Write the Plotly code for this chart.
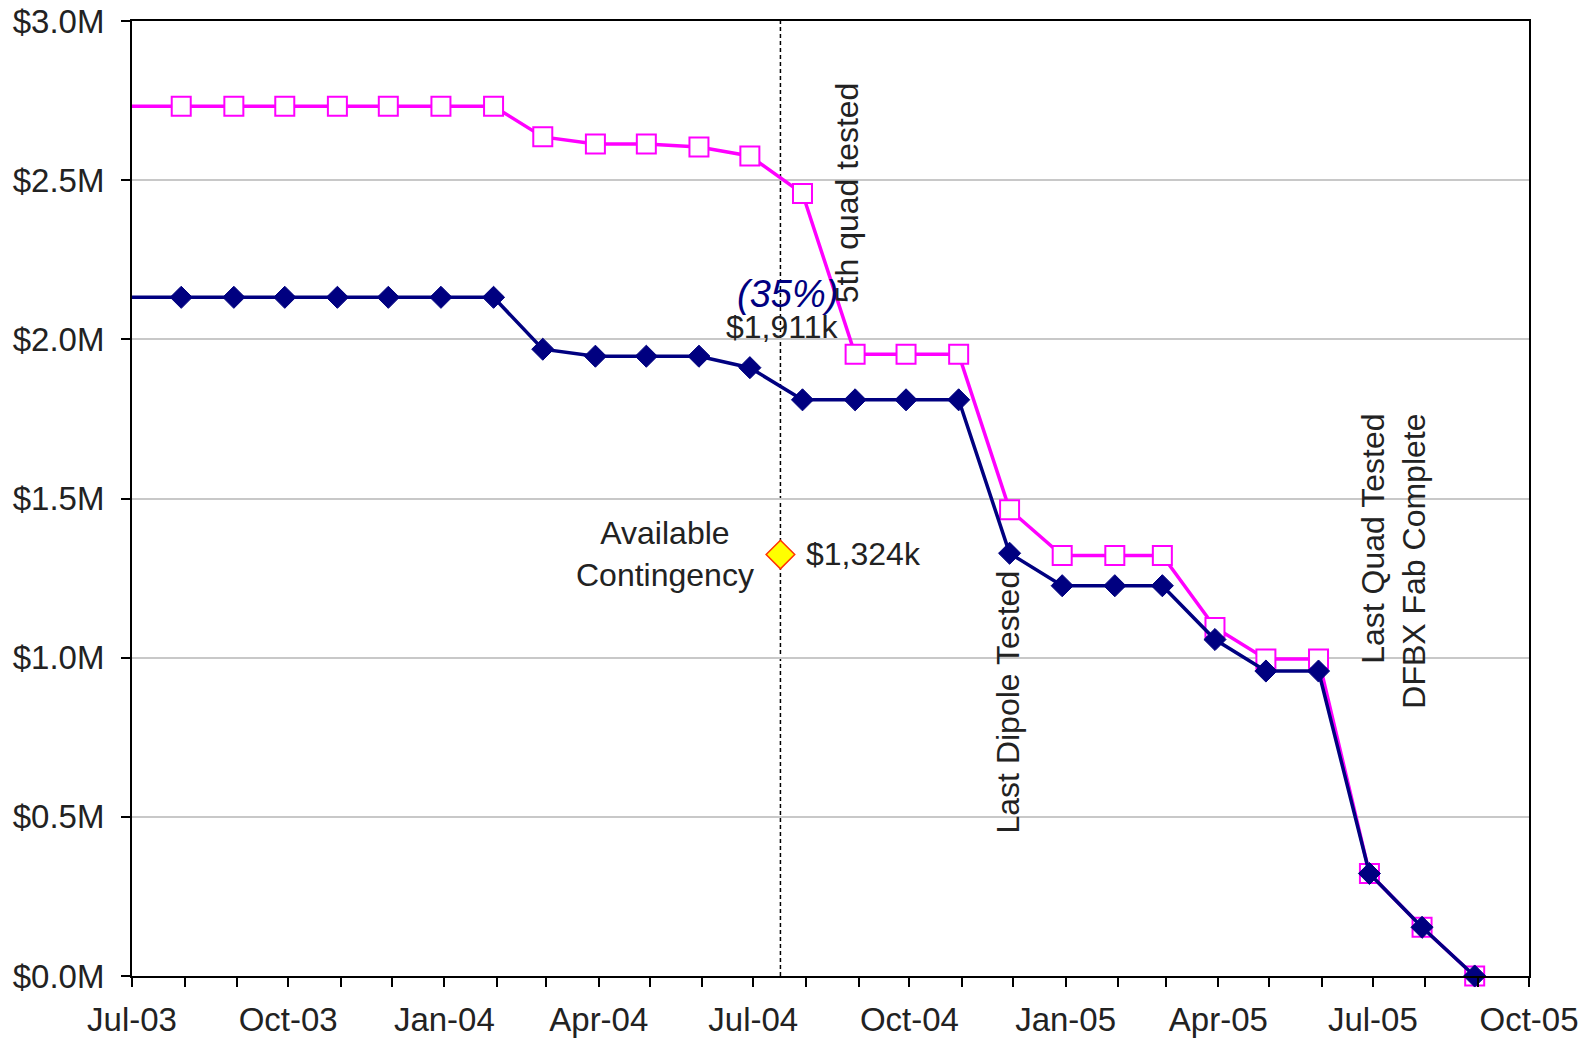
import plotly.graph_objects as go
import pandas as pd

# ---- data ----
start_date = "2003-07-01"
point_dates = ["2003-07-30", "2003-08-30", "2003-09-29", "2003-10-30", "2003-11-29", "2003-12-30",
               "2004-01-30", "2004-02-28", "2004-03-30", "2004-04-29", "2004-05-30", "2004-06-29",
               "2004-07-30", "2004-08-30", "2004-09-29", "2004-10-30", "2004-11-29", "2004-12-30",
               "2005-01-30", "2005-02-27", "2005-03-30", "2005-04-29", "2005-05-30", "2005-06-29",
               "2005-07-30", "2005-08-30"]

magenta_vals = [2.732, 2.732, 2.732, 2.732, 2.732, 2.732, 2.732,
                2.636, 2.614, 2.614, 2.604, 2.576, 2.458, 1.953, 1.953, 1.953,
                1.465, 1.321, 1.321, 1.321, 1.095, 0.996, 0.996, 0.322, 0.153, 0.0]
navy_vals = [2.132, 2.132, 2.132, 2.132, 2.132, 2.132, 2.132,
             1.969, 1.947, 1.947, 1.947, 1.911, 1.810, 1.810, 1.810, 1.810,
             1.328, 1.226, 1.226, 1.226, 1.057, 0.958, 0.958, 0.322, 0.153, 0.0]

contingency_date = "2004-07-17"
contingency_val = 1.324

tick_months = pd.date_range("2003-07-01", "2005-10-01", freq="MS")
tick_labels = [d.strftime("%b-%y") if (d.month - 7) % 3 == 0 else "" for d in tick_months]
y_ticks = [0.0, 0.5, 1.0, 1.5, 2.0, 2.5, 3.0]
y_labels = ["$0.0M", "$0.5M", "$1.0M", "$1.5M", "$2.0M", "$2.5M", "$3.0M"]

FONT = "Liberation Sans, Arial, sans-serif"
TICK_FS = 33
ANN_FS = 32

x_line = [start_date] + point_dates
msizes = [0] + [19] * len(point_dates)
dsizes = [0] + [17] * len(point_dates)

fig = go.Figure()
fig.add_trace(go.Scatter(
    x=x_line, y=[magenta_vals[0]] + magenta_vals, mode="lines+markers",
    line=dict(color="#FF00FF", width=3.5),
    marker=dict(symbol="square", size=msizes, color="white", opacity=1,
                line=dict(color="#FF00FF", width=2)),
    cliponaxis=False, showlegend=False))
fig.add_trace(go.Scatter(
    x=x_line, y=[navy_vals[0]] + navy_vals, mode="lines+markers",
    line=dict(color="#000080", width=3.5),
    marker=dict(symbol="diamond", size=dsizes, color="#000080", opacity=1,
                line=dict(color="#000080", width=1)),
    cliponaxis=False, showlegend=False))
fig.add_trace(go.Scatter(
    x=[contingency_date], y=[contingency_val], mode="markers",
    marker=dict(symbol="diamond", size=22, color="#FFFF00", opacity=1,
                line=dict(color="#FF3300", width=1.5)),
    showlegend=False))

fig.add_shape(type="line", xref="x", yref="paper", x0=contingency_date, x1=contingency_date,
              y0=0, y1=1, line=dict(color="black", width=1.5, dash="4px,3px"), layer="below")

ann_font = dict(family=FONT, size=ANN_FS, color="#222222")
fig.add_annotation(x="2004-07-21", y=2.142, text="(35%)", showarrow=False,
                   font=dict(family=FONT, size=38, color="#000080", style="italic"))
fig.add_annotation(x="2004-07-18", y=2.04, text="$1,911k", showarrow=False, font=ann_font)
fig.add_annotation(x="2004-08-25", y=2.461, text="5th quad tested", showarrow=False,
                   textangle=-90, font=ann_font)
fig.add_annotation(x="2004-05-10", y=1.325, text="Available<br>Contingency", showarrow=False,
                   font=ann_font, align="center")
fig.add_annotation(x="2004-07-31", y=1.325, text="$1,324k", showarrow=False,
                   xanchor="left", font=ann_font)
fig.add_annotation(x="2004-11-28", y=0.862, text="Last Dipole Tested", showarrow=False,
                   textangle=-90, font=ann_font)
fig.add_annotation(x="2005-07-13", y=1.302, text="Last Quad Tested<br>DFBX Fab Complete",
                   showarrow=False, textangle=-90, align="right", font=ann_font)

fig.update_layout(
    width=1593, height=1039,
    margin=dict(l=132, r=64, t=21, b=63),
    paper_bgcolor="white", plot_bgcolor="white",
    font=dict(family=FONT, size=ANN_FS, color="#222222"),
    xaxis=dict(type="date", range=["2003-07-01", "2005-10-01"],
               tickvals=list(tick_months), ticktext=tick_labels,
               ticks="outside", ticklen=9, tickwidth=1.5, tickcolor="black",
               ticklabelstandoff=4,
               showline=True, linecolor="black", linewidth=2, mirror=True,
               showgrid=False, zeroline=False, automargin=False,
               tickfont=dict(family=FONT, size=TICK_FS, color="#222222")),
    yaxis=dict(range=[0, 3.0], tickvals=y_ticks, ticktext=y_labels,
               ticks="outside", ticklen=9, tickwidth=1.5, tickcolor="black",
               ticklabelstandoff=10,
               showline=True, linecolor="black", linewidth=2, mirror=True,
               showgrid=True, gridcolor="#C8C8C8", gridwidth=1.5, zeroline=False,
               automargin=False,
               tickfont=dict(family=FONT, size=TICK_FS, color="#222222")),
)

fig.write_html("out.html", config={"displayModeBar": False},
               post_script="document.body.style.margin='0';document.body.style.overflow='hidden';")
